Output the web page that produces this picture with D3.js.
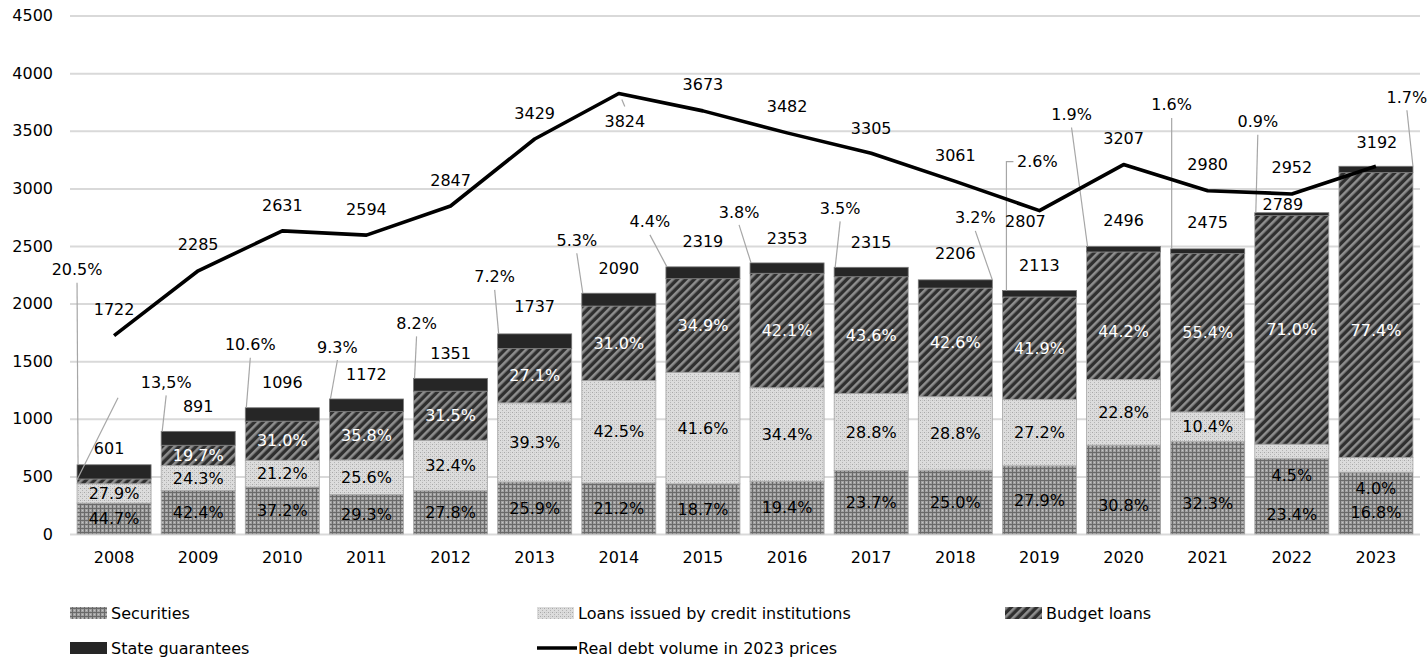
<!DOCTYPE html>
<html><head><meta charset="utf-8">
<script src="https://cdn.jsdelivr.net/npm/d3@7"></script>
<style>
body{margin:0;background:#fff}
svg text{font-family:"DejaVu Sans",Verdana,sans-serif;font-size:16px;fill:#000}
</style>
</head><body>
<svg id="chart" width="1427" height="658"></svg>
<script>
// ---------- DATA ----------
const years = ['2008','2009','2010','2011','2012','2013','2014','2015','2016','2017','2018','2019','2020','2021','2022','2023'];
const totalDebt = [601, 891, 1096, 1172, 1351, 1737, 2090, 2319, 2353, 2315, 2206, 2113, 2496, 2475, 2789, 3192];
const realDebt = [1722, 2285, 2631, 2594, 2847, 3429, 3824, 3673, 3482, 3305, 3061, 2807, 3207, 2980, 2952, 3192];
const pctSecurities = [44.7, 42.4, 37.2, 29.3, 27.8, 25.9, 21.2, 18.7, 19.4, 23.7, 25.0, 27.9, 30.8, 32.3, 23.4, 16.8];
const pctLoans = [27.9, 24.3, 21.2, 25.6, 32.4, 39.3, 42.5, 41.6, 34.4, 28.8, 28.8, 27.2, 22.8, 10.4, 4.5, 4.0];
const pctBudget = [6.9, 19.7, 31.0, 35.8, 31.5, 27.1, 31.0, 34.9, 42.1, 43.6, 42.6, 41.9, 44.2, 55.4, 71.0, 77.4];
const pctGuarantees = [20.5, 13.5, 10.6, 9.3, 8.2, 7.2, 5.3, 4.4, 3.8, 3.5, 3.2, 2.6, 1.9, 1.6, 0.9, 1.7];
const guaranteeLabels = ['20.5%','13,5%','10.6%','9.3%','8.2%','7.2%','5.3%','4.4%','3.8%','3.5%','3.2%','2.6%','1.9%','1.6%','0.9%','1.7%'];
const budgetLabelShown = [false,true,true,true,true,true,true,true,true,true,true,true,true,true,true,true];
const yTicks = [0,500,1000,1500,2000,2500,3000,3500,4000,4500];
const seriesNames = ['Securities','Loans issued by credit institutions','Budget loans','State guarantees','Real debt volume in 2023 prices'];

// ---------- LAYOUT (positions only) ----------
const calloutLayout = [
  {dx:0,dy:-195,end:'left'},{dx:5,dy:-49,end:'left'},{dx:5,dy:-63,end:'left'},{dx:8,dy:-52,end:'left'},
  {dx:3,dy:-55,end:'left'},{dx:-3,dy:-57,end:'left'},{dx:-5,dy:-53,end:'left'},{dx:-16,dy:-45,end:'left'},
  {dx:-11,dy:-51,end:'left'},{dx:6,dy:-59,end:'left'},{dx:57,dy:-62,end:'right'},{dx:35,dy:-129,end:'left',elbow:true},
  {dx:-15,dy:-132,end:'left'},{dx:1,dy:-144,end:'left'},{dx:3,dy:-91,end:'left'},{dx:68,dy:-69,end:'right'}
];
const lineLabelOffset = [[0,-26],[0,-26],[0,-26],[0,-26],[0,-26],[0,-26],[6,28],[0,-26],[0,-26],[0,-25],[0,-26],[-14,11],[0,-26],[0,-26],[0,-27],[1,-24]];
const totalLabelOffset = [[-5,-16],[0,-25],[0,-25],[0,-25],[0,-25],[0,-27],[0,-25],[0,-25],[0,-25],[0,-25],[0,-26],[0,-25],[0,-26],[0,-26],[-9,-8],[0,-25]];
// vertical pixel shifts of inside labels (moved labels in the original)
const secLabelShift    = [0,0,0,0,0,0,0,0,0,0,0,0,16,16,18,9];
const loanLabelShift   = [0,0,0,0,0,0,0,0,0,0,0,0,0,0,24,24];
const budgetLabelShift = [0,0,0,0,0,0,0,0,0,0,0,0,16,0,0,15];

// ---------- CHART ----------
const svg = d3.select('#chart');
const defs = svg.append('defs');

const pSec = defs.append('pattern').attr('id','pSec').attr('patternUnits','userSpaceOnUse').attr('width',4).attr('height',4);
pSec.append('rect').attr('width',4).attr('height',4).attr('fill','#a2a2a2');
pSec.append('rect').attr('width',4).attr('height',1).attr('fill','#6a6a6a');
pSec.append('rect').attr('width',1).attr('height',4).attr('fill','#6a6a6a');
pSec.append('rect').attr('x',2).attr('y',2).attr('width',1).attr('height',1).attr('fill','#c4c4c4');

const pLoan = defs.append('pattern').attr('id','pLoan').attr('patternUnits','userSpaceOnUse').attr('width',4).attr('height',4);
pLoan.append('rect').attr('width',4).attr('height',4).attr('fill','#dcdcdc');
pLoan.append('rect').attr('width',1).attr('height',1).attr('fill','#a8a8a8');
pLoan.append('rect').attr('x',2).attr('y',2).attr('width',1).attr('height',1).attr('fill','#b4b4b4');
pLoan.append('rect').attr('x',2).attr('y',0).attr('width',1).attr('height',1).attr('fill','#c6c6c6');

const pBud = defs.append('pattern').attr('id','pBud').attr('patternUnits','userSpaceOnUse').attr('width',6).attr('height',6)
  .attr('patternTransform','rotate(45)');
pBud.append('rect').attr('width',6).attr('height',6).attr('fill','#2f2f2f');
pBud.append('rect').attr('width',2.6).attr('height',6).attr('fill','#8e8e8e');

const fills = {securities:'url(#pSec)', loans:'url(#pLoan)', budget:'url(#pBud)', guarantees:'#262626'};

const x = d3.scaleBand().domain(years).range([72,1418]).paddingInner(0.12).paddingOuter(0.06);
const y = d3.scaleLinear().domain([0,4500]).range([534,15.6]);

const yAxis = svg.append('g').attr('transform','translate(70,0)')
  .call(d3.axisLeft(y).tickValues(yTicks).tickSizeInner(-1350).tickSizeOuter(0).tickPadding(17).tickFormat(d3.format('d')));
yAxis.select('.domain').remove();
yAxis.selectAll('line').attr('stroke','#d9d9d9').attr('stroke-width',2);
yAxis.selectAll('text').style('font-size','16px').attr('fill','#000');

const xAxis = svg.append('g').attr('transform','translate(0,534)')
  .call(d3.axisBottom(x).tickSize(0).tickPadding(18));
xAxis.select('.domain').remove();
xAxis.selectAll('text').style('font-size','16px').attr('fill','#000');

const keys = ['securities','loans','budget','guarantees'];
const table = years.map((yr,i)=>{
  const s = pctSecurities[i]+pctLoans[i]+pctBudget[i]+pctGuarantees[i];
  return {year:yr,
    securities: totalDebt[i]*pctSecurities[i]/s,
    loans: totalDebt[i]*pctLoans[i]/s,
    budget: totalDebt[i]*pctBudget[i]/s,
    guarantees: totalDebt[i]*pctGuarantees[i]/s};
});
const stacked = d3.stack().keys(keys)(table);

const barG = svg.append('g');
stacked.forEach(layer=>{
  barG.selectAll(null).data(layer).enter().append('rect')
    .attr('x',d=>x(d.data.year))
    .attr('y',d=>y(d[1]))
    .attr('width',x.bandwidth())
    .attr('height',d=>y(d[0])-y(d[1]))
    .attr('fill',fills[layer.key])
    .attr('stroke',layer.key==='guarantees'?'#777':'#a8a8a8')
    .attr('stroke-width',0.8);
});

const inside = [
  {key:'securities', pct:pctSecurities, color:'#000', show:years.map(()=>true), shift:secLabelShift},
  {key:'loans', pct:pctLoans, color:'#000', show:years.map(()=>true), shift:loanLabelShift},
  {key:'budget', pct:pctBudget, color:'#fff', show:budgetLabelShown, shift:budgetLabelShift}
];
inside.forEach(spec=>{
  const layer = stacked[keys.indexOf(spec.key)];
  barG.selectAll(null).data(layer.map((d,i)=>({d,i})).filter(o=>spec.show[o.i])).enter().append('text')
    .attr('x',o=>x(o.d.data.year)+x.bandwidth()/2)
    .attr('y',o=>y((o.d[0]+o.d[1])/2)+spec.shift[o.i])
    .attr('dy','0.35em')
    .attr('text-anchor','middle')
    .style('fill',spec.color)
    .text(o=>spec.pct[o.i].toFixed(1)+'%');
});

svg.append('g').selectAll('text').data(years).enter().append('text')
  .attr('x',(d,i)=>x(d)+x.bandwidth()/2+totalLabelOffset[i][0])
  .attr('y',(d,i)=>y(totalDebt[i])+totalLabelOffset[i][1])
  .attr('dy','0.35em').attr('text-anchor','middle')
  .text((d,i)=> i===15 ? '' : totalDebt[i]);

const cg = svg.append('g');
years.forEach((yr,i)=>{
  const L = calloutLayout[i];
  const xl = x(yr), xr = x(yr)+x.bandwidth(), yt = y(totalDebt[i]);
  const tx = xl + L.dx, ty = yt + L.dy;
  const ex = L.end==='right' ? xr : xl+1;
  const pts = L.elbow ? [[tx-24,ty],[xl+4,ty],[xl+4,yt]] : [[tx,ty+13],[ex,yt]];
  cg.append('path').attr('d',d3.line()(pts)).attr('fill','none').attr('stroke','#a6a6a6').attr('stroke-width',1.2);
  cg.append('text').attr('x',tx).attr('y',ty).attr('dy','0.35em').attr('text-anchor','middle').text(guaranteeLabels[i]);
});
cg.append('path').attr('d',d3.line()([[x(years[0])+41,y(totalDebt[0])-67],[x(years[0]),y(totalDebt[0])+15]]))
  .attr('fill','none').attr('stroke','#a6a6a6').attr('stroke-width',1.2);

const cx = d=>x(d)+x.bandwidth()/2;
svg.append('path').datum(years)
  .attr('d',d3.line().x(d=>cx(d)).y((d,i)=>y(realDebt[i])))
  .attr('fill','none').attr('stroke','#000').attr('stroke-width',3.6).attr('stroke-linejoin','round');

const lg = svg.append('g');
lg.selectAll('text').data(years).enter().append('text')
  .attr('x',(d,i)=>cx(d)+lineLabelOffset[i][0])
  .attr('y',(d,i)=>y(realDebt[i])+lineLabelOffset[i][1])
  .attr('dy','0.35em').attr('text-anchor','middle')
  .text((d,i)=>realDebt[i]);
lg.append('path').attr('d',d3.line()([[cx(years[6])+3,y(realDebt[6])+6],[cx(years[6])+6,y(realDebt[6])+13]]))
  .attr('stroke','#a6a6a6').attr('stroke-width',1.2).attr('fill','none');

const legend = svg.append('g');
const legendItems = [
  {name:seriesNames[0], x:70, y:613, fill:fills.securities, type:'rect'},
  {name:seriesNames[1], x:537, y:613, fill:fills.loans, type:'rect'},
  {name:seriesNames[2], x:1005, y:613, fill:fills.budget, type:'rect'},
  {name:seriesNames[3], x:70, y:648, fill:fills.guarantees, type:'rect'},
  {name:seriesNames[4], x:537, y:648, type:'line'}
];
legendItems.forEach(it=>{
  if (it.type==='rect') {
    legend.append('rect').attr('x',it.x).attr('y',it.y-6).attr('width',37).attr('height',12).attr('fill',it.fill);
  } else {
    legend.append('line').attr('x1',it.x).attr('x2',it.x+40).attr('y1',it.y).attr('y2',it.y).attr('stroke','#000').attr('stroke-width',3.6);
  }
  legend.append('text').attr('x',it.x+41).attr('y',it.y).attr('dy','0.35em').text(it.name);
});
</script>
</body></html>
